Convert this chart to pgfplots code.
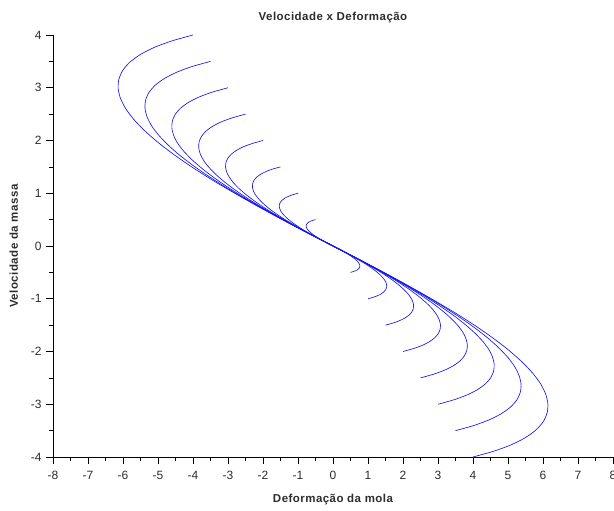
\documentclass[border=0pt]{standalone}
\usepackage{fontspec}
\setmainfont{Liberation Sans}
\newfontfamily\spacedfont[LetterSpace=4]{Liberation Sans}
\usepackage{pgfplots}
\pgfplotsset{compat=1.18}
\usepackage{pgfplotstable}

\pgfplotstableread{
x y
-4.000 4.000
-4.604 3.888
-5.105 3.765
-5.504 3.630
-5.804 3.485
-6.008 3.329
-6.118 3.163
-6.140 2.987
-6.073 2.801
-5.926 2.607
-5.697 2.404
-5.393 2.193
-5.018 1.974
-4.575 1.747
-4.068 1.513
-3.503 1.273
-2.883 1.028
-2.216 0.777
-1.508 0.521
-0.766 0.262
0 0
}\curveA
\pgfplotstableread{
x y
-3.500 3.500
-4.029 3.402
-4.467 3.294
-4.816 3.176
-5.079 3.049
-5.257 2.913
-5.353 2.768
-5.373 2.614
-5.314 2.451
-5.185 2.281
-4.985 2.104
-4.719 1.919
-4.391 1.727
-4.003 1.529
-3.560 1.324
-3.065 1.114
-2.523 0.900
-1.939 0.680
-1.320 0.456
-0.670 0.229
0 0
}\curveB
\pgfplotstableread{
x y
-3.000 3.000
-3.453 2.916
-3.829 2.824
-4.128 2.723
-4.353 2.614
-4.506 2.497
-4.589 2.372
-4.605 2.240
-4.555 2.101
-4.445 1.955
-4.273 1.803
-4.045 1.645
-3.764 1.481
-3.431 1.310
-3.051 1.135
-2.627 0.955
-2.162 0.771
-1.662 0.583
-1.131 0.391
-0.575 0.197
0 0
}\curveC
\pgfplotstableread{
x y
-2.500 2.500
-2.878 2.430
-3.191 2.353
-3.440 2.269
-3.628 2.178
-3.755 2.081
-3.824 1.977
-3.838 1.867
-3.796 1.751
-3.704 1.629
-3.561 1.503
-3.371 1.371
-3.136 1.234
-2.859 1.092
-2.543 0.946
-2.189 0.796
-1.802 0.643
-1.385 0.486
-0.943 0.326
-0.479 0.164
0 0
}\curveD
\pgfplotstableread{
x y
-2.000 2.000
-2.302 1.944
-2.553 1.883
-2.752 1.815
-2.902 1.743
-3.004 1.665
-3.059 1.582
-3.070 1.494
-3.037 1.401
-2.963 1.304
-2.849 1.202
-2.697 1.097
-2.509 0.987
-2.288 0.874
-2.034 0.757
-1.752 0.637
-1.442 0.514
-1.108 0.389
-0.754 0.261
-0.383 0.131
0 0
}\curveE
\pgfplotstableread{
x y
-1.500 1.500
-1.727 1.458
-1.914 1.412
-2.064 1.361
-2.177 1.307
-2.253 1.248
-2.294 1.186
-2.303 1.120
-2.277 1.050
-2.222 0.978
-2.136 0.902
-2.022 0.822
-1.882 0.740
-1.716 0.655
-1.526 0.567
-1.314 0.477
-1.081 0.386
-0.831 0.291
-0.566 0.195
-0.287 0.098
0 0
}\curveF
\pgfplotstableread{
x y
-1.000 1.000
-1.151 0.972
-1.276 0.941
-1.376 0.908
-1.451 0.871
-1.502 0.832
-1.530 0.791
-1.535 0.747
-1.518 0.700
-1.482 0.652
-1.424 0.601
-1.348 0.548
-1.255 0.494
-1.144 0.437
-1.017 0.378
-0.876 0.318
-0.721 0.257
-0.554 0.194
-0.377 0.130
-0.192 0.066
0 0
}\curveG
\pgfplotstableread{
x y
-0.500 0.500
-0.576 0.486
-0.638 0.471
-0.688 0.454
-0.726 0.436
-0.751 0.416
-0.765 0.395
-0.768 0.373
-0.759 0.350
-0.741 0.326
-0.712 0.301
-0.674 0.274
-0.627 0.247
-0.572 0.218
-0.509 0.189
-0.438 0.159
-0.360 0.129
-0.277 0.097
-0.189 0.065
-0.096 0.033
0 0
}\curveH

\pgfplotstableread{
x y
4.000 -4.000
4.604 -3.888
5.105 -3.765
5.504 -3.630
5.804 -3.485
6.008 -3.329
6.118 -3.163
6.140 -2.987
6.073 -2.801
5.926 -2.607
5.697 -2.404
5.393 -2.193
5.018 -1.974
4.575 -1.747
4.068 -1.513
3.503 -1.273
2.883 -1.028
2.216 -0.777
1.508 -0.521
0.766 -0.262
0 0
}\curveAm
\pgfplotstableread{
x y
3.500 -3.500
4.029 -3.402
4.467 -3.294
4.816 -3.176
5.079 -3.049
5.257 -2.913
5.353 -2.768
5.373 -2.614
5.314 -2.451
5.185 -2.281
4.985 -2.104
4.719 -1.919
4.391 -1.727
4.003 -1.529
3.560 -1.324
3.065 -1.114
2.523 -0.900
1.939 -0.680
1.320 -0.456
0.670 -0.229
0 0
}\curveBm
\pgfplotstableread{
x y
3.000 -3.000
3.453 -2.916
3.829 -2.824
4.128 -2.723
4.353 -2.614
4.506 -2.497
4.589 -2.372
4.605 -2.240
4.555 -2.101
4.445 -1.955
4.273 -1.803
4.045 -1.645
3.764 -1.481
3.431 -1.310
3.051 -1.135
2.627 -0.955
2.162 -0.771
1.662 -0.583
1.131 -0.391
0.575 -0.197
0 0
}\curveCm
\pgfplotstableread{
x y
2.500 -2.500
2.878 -2.430
3.191 -2.353
3.440 -2.269
3.628 -2.178
3.755 -2.081
3.824 -1.977
3.838 -1.867
3.796 -1.751
3.704 -1.629
3.561 -1.503
3.371 -1.371
3.136 -1.234
2.859 -1.092
2.543 -0.946
2.189 -0.796
1.802 -0.643
1.385 -0.486
0.943 -0.326
0.479 -0.164
0 0
}\curveDm
\pgfplotstableread{
x y
2.000 -2.000
2.302 -1.944
2.553 -1.883
2.752 -1.815
2.902 -1.743
3.004 -1.665
3.059 -1.582
3.070 -1.494
3.037 -1.401
2.963 -1.304
2.849 -1.202
2.697 -1.097
2.509 -0.987
2.288 -0.874
2.034 -0.757
1.752 -0.637
1.442 -0.514
1.108 -0.389
0.754 -0.261
0.383 -0.131
0 0
}\curveEm
\pgfplotstableread{
x y
1.500 -1.500
1.727 -1.458
1.914 -1.412
2.064 -1.361
2.177 -1.307
2.253 -1.248
2.294 -1.186
2.303 -1.120
2.277 -1.050
2.222 -0.978
2.136 -0.902
2.022 -0.822
1.882 -0.740
1.716 -0.655
1.526 -0.567
1.314 -0.477
1.081 -0.386
0.831 -0.291
0.566 -0.195
0.287 -0.098
0 0
}\curveFm
\pgfplotstableread{
x y
1.000 -1.000
1.151 -0.972
1.276 -0.941
1.376 -0.908
1.451 -0.871
1.502 -0.832
1.530 -0.791
1.535 -0.747
1.518 -0.700
1.482 -0.652
1.424 -0.601
1.348 -0.548
1.255 -0.494
1.144 -0.437
1.017 -0.378
0.876 -0.318
0.721 -0.257
0.554 -0.194
0.377 -0.130
0.192 -0.066
0 0
}\curveGm
\pgfplotstableread{
x y
0.500 -0.500
0.576 -0.486
0.638 -0.471
0.688 -0.454
0.726 -0.436
0.751 -0.416
0.765 -0.395
0.768 -0.373
0.759 -0.350
0.741 -0.326
0.712 -0.301
0.674 -0.274
0.627 -0.247
0.572 -0.218
0.509 -0.189
0.438 -0.159
0.360 -0.129
0.277 -0.097
0.189 -0.065
0.096 -0.033
0 0
}\curveHm

\definecolor{txt}{RGB}{45,45,45}
\definecolor{curve}{RGB}{20,20,235}

\begin{document}
\begin{tikzpicture}
\begin{axis}[
  at={(0,0)}, anchor=south west,
  scale only axis,
  width=560pt, height=422pt,
  xmin=-8, xmax=8, ymin=-4, ymax=4,
  axis lines=left,
  axis line style={-, black, line width=0.8pt},
  xtick={-8,...,8}, ytick={-4,...,4},
  minor x tick num=1, minor y tick num=1,
  tick align=outside,
  major tick length=7pt, minor tick length=4pt,
  tick style={black, line width=0.7pt},
  /pgf/number format/assume math mode=true,
  ticklabel style={font=\fontsize{12}{14}\selectfont, text=txt},
  xticklabel style={yshift=-4pt},
  yticklabel style={xshift=-1pt},
  title={Velocidade x Deformação},
  title style={font=\spacedfont\bfseries\fontsize{11.5}{13}\selectfont, text=txt, yshift=3pt},
  xlabel={Deformação da mola},
  xlabel style={font=\spacedfont\bfseries\fontsize{11.5}{13}\selectfont, text=txt, yshift=-7pt},
  ylabel={Velocidade da massa},
  ylabel style={font=\spacedfont\bfseries\fontsize{11.5}{13}\selectfont, text=txt, yshift=6pt},
  mycurve/.style={curve, line width=0.65pt, no markers, smooth, tension=0.4},
]
\addplot[mycurve] table[x=x,y=y] {\curveA};
\addplot[mycurve] table[x=x,y=y] {\curveB};
\addplot[mycurve] table[x=x,y=y] {\curveC};
\addplot[mycurve] table[x=x,y=y] {\curveD};
\addplot[mycurve] table[x=x,y=y] {\curveE};
\addplot[mycurve] table[x=x,y=y] {\curveF};
\addplot[mycurve] table[x=x,y=y] {\curveG};
\addplot[mycurve] table[x=x,y=y] {\curveH};
\addplot[mycurve] table[x=x,y=y] {\curveAm};
\addplot[mycurve] table[x=x,y=y] {\curveBm};
\addplot[mycurve] table[x=x,y=y] {\curveCm};
\addplot[mycurve] table[x=x,y=y] {\curveDm};
\addplot[mycurve] table[x=x,y=y] {\curveEm};
\addplot[mycurve] table[x=x,y=y] {\curveFm};
\addplot[mycurve] table[x=x,y=y] {\curveGm};
\addplot[mycurve] table[x=x,y=y] {\curveHm};
\end{axis}
\pgfresetboundingbox
\path[use as bounding box] (-53pt,-54pt) rectangle (561pt,457pt);
\end{tikzpicture}
\end{document}
